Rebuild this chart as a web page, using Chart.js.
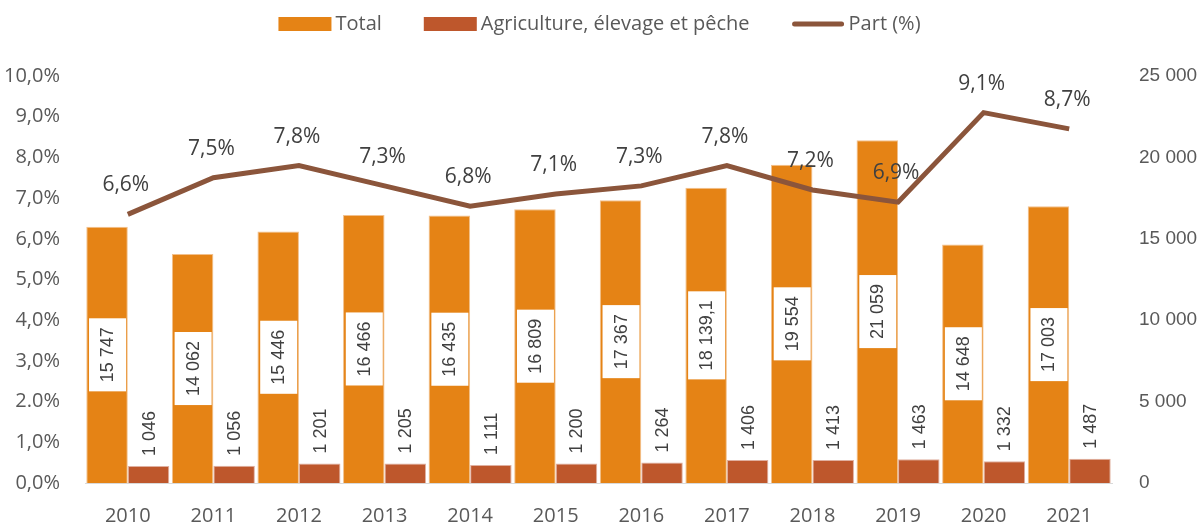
<!DOCTYPE html>
<html lang="fr">
<head>
    <meta charset="UTF-8">
    <title>Part de l'agriculture</title>
    <script src="https://cdn.jsdelivr.net/npm/chart.js@4.4.0/dist/chart.umd.min.js"></script>
    <style>
        body { margin: 0; background: #fff; }
        .wrap { width: 1199px; height: 525px; }
    </style>
</head>
<body>
<div class="wrap"><canvas id="chart"></canvas></div>
<script>
// data
const years = ['2010', '2011', '2012', '2013', '2014', '2015', '2016', '2017', '2018', '2019', '2020', '2021'];
const total = [15747, 14062, 15446, 16466, 16435, 16809, 17367, 18139.1, 19554, 21059, 14648, 17003];
const agri = [1046, 1056, 1201, 1205, 1111, 1200, 1264, 1406, 1413, 1463, 1332, 1487];
const part = [6.6, 7.5, 7.8, 7.3, 6.8, 7.1, 7.3, 7.8, 7.2, 6.9, 9.1, 8.7];
const leftTicks = ['0,0%', '1,0%', '2.0%', '3,0%', '4,0%', '5,0%', '6,0%', '7,0%', '8,0%', '9,0%', '10,0%'];

const TXT = '#595959';
const LBL = '#404040';

function fmtNum(v) {
    let s = String(v).split('.');
    let ent = s[0].replace(/\B(?=(\d{3})+(?!\d))/g, ' ');
    return s.length > 1 ? ent + ',' + s[1] : ent;
}

// legend drawn by hand so the swatches match the original
const legendPlugin = {
    id: 'customLegend',
    afterDraw(chart) {
        const ctx = chart.ctx;
        const items = chart.data.datasets.map(ds => ({ text: ds.label, color: ds.borderColor, fill: ds.backgroundColor, line: ds.type === 'line' }));
        ctx.save();
        ctx.font = '20px "Open Sans", sans-serif';
        const swW = 53, gapIn = 4, gapOut = 42;
        let totalW = 0;
        items.forEach((it, i) => {
            it.w = ctx.measureText(it.text).width;
            totalW += swW + gapIn + it.w + (i < items.length - 1 ? gapOut : 0);
        });
        let x = (chart.width - totalW) / 2;
        const y = 24;
        items.forEach(it => {
            if (it.line) {
                ctx.strokeStyle = it.color;
                ctx.lineWidth = 5;
                ctx.lineCap = 'round';
                ctx.beginPath();
                ctx.moveTo(x + 3, y);
                ctx.lineTo(x + swW - 3, y);
                ctx.stroke();
            } else {
                ctx.fillStyle = it.fill;
                ctx.fillRect(x, y - 7, swW, 14);
            }
            ctx.fillStyle = TXT;
            ctx.textAlign = 'left';
            ctx.textBaseline = 'middle';
            ctx.fillText(it.text, x + swW + gapIn, y);
            x += swW + gapIn + it.w + gapOut;
        });
        ctx.restore();
    }
};

const labelPlugin = {
    id: 'labels',
    afterDatasetsDraw(chart) {
        const ctx = chart.ctx;
        ctx.save();
        // total values: rotated, white box in the middle of the bar
        chart.getDatasetMeta(0).data.forEach((bar, i) => {
            const txt = fmtNum(total[i]);
            const midY = (bar.y + bar.base) / 2;
            ctx.font = '18px "Liberation Sans", Arial, sans-serif';
            const w = ctx.measureText(txt).width;
            ctx.fillStyle = '#fff';
            ctx.fillRect(bar.x - 18, midY - w / 2 - 9, 37, w + 18);
            ctx.translate(bar.x, midY);
            ctx.rotate(-Math.PI / 2);
            ctx.fillStyle = LBL;
            ctx.textAlign = 'center';
            ctx.textBaseline = 'middle';
            ctx.fillText(txt, 0, 1);
            ctx.setTransform(1, 0, 0, 1, 0, 0);
        });
        // agriculture values: rotated, above the bar
        chart.getDatasetMeta(1).data.forEach((bar, i) => {
            const txt = fmtNum(agri[i]);
            ctx.font = '18px "Liberation Sans", Arial, sans-serif';
            ctx.translate(bar.x, bar.y - 10);
            ctx.rotate(-Math.PI / 2);
            ctx.fillStyle = LBL;
            ctx.textAlign = 'left';
            ctx.textBaseline = 'middle';
            ctx.fillText(txt, 0, 1);
            ctx.setTransform(1, 0, 0, 1, 0, 0);
        });
        // part labels above the line
        chart.getDatasetMeta(2).data.forEach((pt, i) => {
            ctx.font = '21px "Open Sans", sans-serif';
            ctx.fillStyle = LBL;
            ctx.textAlign = 'center';
            ctx.textBaseline = 'middle';
            ctx.fillText(part[i].toFixed(1).replace('.', ',') + '%', pt.x - 2, pt.y - 29);
        });
        ctx.restore();
    }
};

new Chart(document.getElementById('chart'), {
    data: {
        labels: years,
        datasets: [
            {
                type: 'bar',
                label: 'Total',
                data: total,
                yAxisID: 'y1',
                backgroundColor: '#E58315',
                borderColor: '#F2C08C',
                borderWidth: 1,
                barPercentage: 1,
                categoryPercentage: 0.97,
                order: 2
            },
            {
                type: 'bar',
                label: 'Agriculture, élevage et pêche',
                data: agri,
                yAxisID: 'y1',
                backgroundColor: '#BE572C',
                borderColor: '#E0B0A0',
                borderWidth: 1,
                barPercentage: 1,
                categoryPercentage: 0.97,
                order: 2
            },
            {
                type: 'line',
                label: 'Part (%)',
                data: part,
                yAxisID: 'y',
                borderColor: '#8B553B',
                backgroundColor: '#8B553B',
                borderWidth: 5,
                pointRadius: 0,
                tension: 0,
                order: 1
            }
        ]
    },
    options: {
        responsive: true,
        maintainAspectRatio: false,
        animation: false,
        layout: { padding: { top: 76, left: 0, right: 0, bottom: 0 } },
        plugins: {
            legend: { display: false },
            tooltip: { enabled: false }
        },
        scales: {
            x: {
                grid: { display: false },
                border: { color: '#D9D9D9', width: 1 },
                ticks: { color: TXT, padding: 13, font: { size: 20, family: '"Open Sans", sans-serif' } },
                afterFit: (s) => { s.height = 42; }
            },
            y: {
                position: 'left',
                min: 0,
                max: 10,
                grid: { display: false },
                border: { display: false },
                ticks: {
                    stepSize: 1,
                    color: TXT,
                    padding: 17,
                    font: { size: 20, family: '"Open Sans", sans-serif' },
                    callback: (v) => leftTicks[Math.round(v)]
                },
                afterFit: (s) => { s.width = 85; }
            },
            y1: {
                position: 'right',
                min: 0,
                max: 25000,
                grid: { display: false },
                border: { display: false },
                ticks: {
                    stepSize: 5000,
                    color: TXT,
                    padding: 19,
                    font: { size: 19, family: '"Liberation Sans", Arial, sans-serif' },
                    callback: (v) => fmtNum(v)
                },
                afterFit: (s) => { s.width = 87; }
            }
        }
    },
    plugins: [legendPlugin, labelPlugin]
});
</script>
</body>
</html>
